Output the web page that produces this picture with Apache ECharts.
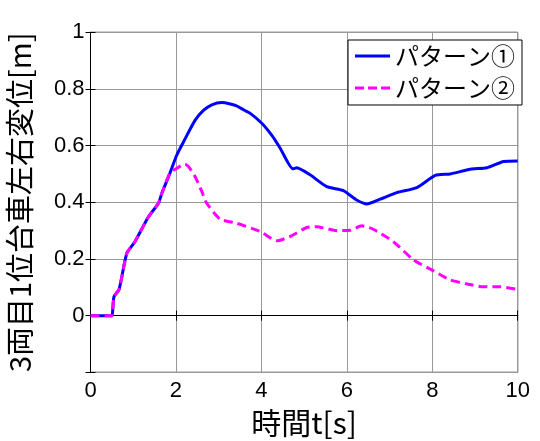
<!DOCTYPE html>
<html><head><meta charset="utf-8">
<script src="https://cdn.jsdelivr.net/npm/echarts@6/dist/echarts.min.js"></script>
<style>html,body{margin:0;padding:0;background:#fff}#c{width:540px;height:441px}</style>
</head><body><div id="c"></div>
<script>
const seriesNames = ['パターン①', 'パターン②'];
const t1 = [0,0.5,0.52,0.55,0.67,0.85,1.04,1.35,1.59,1.67,1.86,2.02,2.2,2.45,2.65,2.84,3.07,3.25,3.42,3.6,3.74,4.01,4.25,4.44,4.74,4.83,5.14,5.53,5.92,6.23,6.47,6.78,7.17,7.64,8.07,8.42,8.89,9.28,9.67,10];
const v1 = [0,0,0.02,0.067,0.093,0.22,0.261,0.347,0.397,0.432,0.503,0.567,0.62,0.69,0.725,0.744,0.752,0.748,0.74,0.725,0.714,0.679,0.635,0.591,0.518,0.522,0.497,0.455,0.441,0.408,0.394,0.411,0.434,0.452,0.495,0.5,0.517,0.522,0.544,0.546];
const t2 = [0,0.5,0.52,0.55,0.67,0.85,1.04,1.35,1.59,1.67,1.86,2.02,2.21,2.3,2.45,2.6,2.72,3.03,3.42,3.97,4.36,4.67,5.06,5.29,5.77,6.08,6.35,6.62,7.09,7.56,8.03,8.42,8.81,9.2,9.59,9.97];
const v2 = [0,0,0.02,0.067,0.093,0.22,0.261,0.347,0.397,0.432,0.503,0.52,0.535,0.525,0.49,0.44,0.397,0.341,0.326,0.297,0.264,0.279,0.311,0.314,0.3,0.301,0.317,0.305,0.261,0.197,0.158,0.126,0.112,0.102,0.102,0.093];
const xTicks = [0,2,4,6,8,10];
const xName = '時間t[s]';
const yName = '3両目1位台車左右変位[m]';

const FONT = '"Liberation Sans", "Noto Sans CJK JP", sans-serif';
const chart = echarts.init(document.getElementById('c'));
const zip = (a,b) => a.map((x,i)=>[x,b[i]]);
const yFmt = v => (v < -0.1 ? '' : String(Math.round(v*10)/10));
chart.setOption({
  animation: false,
  textStyle: {fontFamily: FONT},
  grid: {left: 90.5, right: 22.3, top: 32.3, bottom: 68.7, containLabel: false, outerBoundsMode: 'none',
         show: true, borderColor: '#000', borderWidth: 1},
  legend: {
    left: 348, top: 40, orient: 'vertical', itemGap: 8,
    backgroundColor: '#fff', borderColor: '#000', borderWidth: 1, borderRadius: 0,
    padding: [4, 7, 5, 7], itemWidth: 35, itemHeight: 3,
    textStyle: {fontSize: 24, color: '#000', fontFamily: '"Noto Sans CJK JP", sans-serif'},
    data: [
      {name: seriesNames[0], icon: 'rect'},
      {name: seriesNames[1], icon: 'path://M0,0h9v3h-9z M13,0h9v3h-9z M26,0h9v3h-9z'}
    ]
  },
  xAxis: [{
    type: 'value', min: 0, max: 10, interval: 2,
    name: xName, nameLocation: 'middle', nameGap: 33,
    nameTextStyle: {fontSize: 30, color: '#000', fontFamily: '"Noto Sans CJK JP", sans-serif'},
    axisLine: {show: true, lineStyle: {color: '#000'}},
    axisTick: {show: true, inside: true, length: 5, lineStyle: {color: '#000'}},
    axisLabel: {fontSize: 22, color: '#000', margin: 8, formatter: v => xTicks.includes(v) ? String(v) : ''},
    splitLine: {show: true, lineStyle: {color: '#999', width: 1}}
  }, {
    type: 'value', min: 0, max: 10, interval: 2, position: 'top',
    axisLine: {show: true, lineStyle: {color: '#000'}},
    axisTick: {show: true, inside: true, length: 5, lineStyle: {color: '#000'}},
    axisLabel: {show: false}, splitLine: {show: false}
  }],
  yAxis: [{
    type: 'value', min: -0.2, max: 1, interval: 0.2,
    name: yName, nameLocation: 'middle', nameGap: 56,
    nameTextStyle: {fontSize: 29, color: '#000', fontFamily: '"Noto Sans CJK JP", sans-serif'},
    axisLine: {show: true, lineStyle: {color: '#000'}},
    axisTick: {show: true, inside: true, length: 5, lineStyle: {color: '#000'}},
    axisLabel: {fontSize: 22, color: '#000', margin: 6, formatter: yFmt},
    splitLine: {show: true, lineStyle: {color: '#999', width: 1}}
  }, {
    type: 'value', min: -0.2, max: 1, interval: 0.2, position: 'right',
    axisLine: {show: true, lineStyle: {color: '#000'}},
    axisTick: {show: true, inside: true, length: 5, lineStyle: {color: '#000'}},
    axisLabel: {show: false}, splitLine: {show: false}
  }],
  series: [{
    name: seriesNames[0], type: 'line', data: zip(t1, v1), symbol: 'none', smooth: 0.2,
    lineStyle: {color: '#0000ff', width: 3}, itemStyle: {color: '#0000ff'}, z: 2
  }, {
    name: seriesNames[1], type: 'line', data: zip(t2, v2), symbol: 'none', smooth: 0.2,
    lineStyle: {color: '#ff00ff', width: 3, type: [9, 5]}, itemStyle: {color: '#ff00ff'}, z: 3
  }]
});
</script></body></html>
